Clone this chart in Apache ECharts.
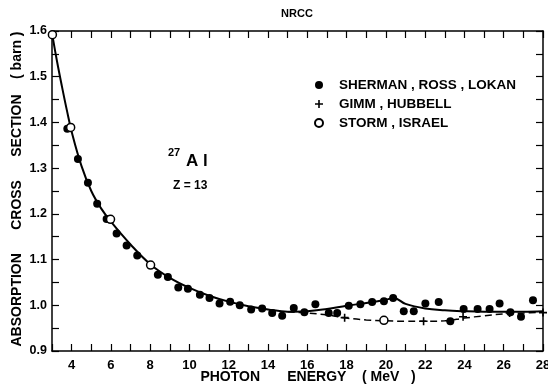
<!DOCTYPE html>
<html>
<head>
<meta charset="utf-8">
<script src="https://cdn.jsdelivr.net/npm/echarts@6/dist/echarts.min.js"></script>
<style>html,body{margin:0;padding:0;background:#fff}#c{width:548px;height:384px}</style>
</head>
<body>
<div id="c"></div>
<script>
// Sherman, Ross, Lokan (filled circles)
const shermanE = [3.78,4.32,4.83,5.30,5.78,6.29,6.80,7.34,8.39,8.90,9.43,9.92,10.53,11.02,11.53,12.07,12.56,13.14,13.70,14.21,14.72,15.31,15.85,16.41,17.09,17.52,18.11,18.70,19.30,19.90,20.37,20.91,21.42,22.01,22.69,23.28,23.96,24.67,25.28,25.79,26.34,26.88,27.49];
const shermanV = [1.386,1.320,1.268,1.222,1.189,1.157,1.131,1.109,1.067,1.062,1.039,1.036,1.023,1.016,1.004,1.008,1.000,0.991,0.993,0.983,0.977,0.994,0.985,1.002,0.983,0.983,0.999,1.002,1.007,1.009,1.016,0.987,0.987,1.004,1.007,0.965,0.992,0.992,0.992,1.004,0.985,0.975,1.011];
// Gimm, Hubbell (plus)
const gimmE = [17.9,21.92,23.93,26.3,28.0];
const gimmV = [0.973,0.965,0.975,0.983,0.984];
// Storm, Israel (open circles)
const stormE = [3.02,3.95,5.98,8.02,19.9];
const stormV = [1.592,1.389,1.188,1.088,0.967];
// Solid curve
const curveE = [3,3.25,3.5,3.75,4,4.5,5,5.5,6,7,8,9,10,11,12,13,14,15,16,17,18,19,20,20.4,21,22,23,24,25,26,27,28];
const curveV = [1.595,1.535,1.48,1.428,1.38,1.305,1.25,1.212,1.183,1.133,1.09,1.06,1.038,1.021,1.008,0.998,0.991,0.986,0.987,0.992,0.999,1.005,1.012,1.016,1.003,0.993,0.989,0.987,0.986,0.986,0.986,0.987];
// Dashed curve
const dashE = [15,16,17,18,19,20,21,22,23,24,25,26,27,28];
const dashV = [0.986,0.983,0.979,0.972,0.968,0.966,0.965,0.965,0.966,0.972,0.977,0.981,0.983,0.985];

const zip = (a,b) => a.map((x,i)=>[x,b[i]]);
const FONT = 'Liberation Sans';
const PLUS = 'path://M3.2,0H4.8V3.2H8V4.8H4.8V8H3.2V4.8H0V3.2H3.2Z';

const chart = echarts.init(document.getElementById('c'), null, {renderer:'canvas'});
const axisCommon = {
  axisLine:{show:true,onZero:false,lineStyle:{color:'#000',width:1.5}},
  axisTick:{show:true,inside:true,length:7,lineStyle:{color:'#000',width:1.2}},
  splitLine:{show:false}
};
chart.setOption({
  animation:false,
  backgroundColor:'#fff',
  title:{text:'NRCC',left:292,top:3,textAlign:'center',textStyle:{fontFamily:FONT,fontSize:11,fontWeight:'bold',color:'#000'}},
  grid:{left:52,top:31,right:5,bottom:33,containLabel:false,outerBoundsMode:'none'},
  legend:{
    orient:'vertical',left:309,top:73,itemWidth:8,itemHeight:8,itemGap:5,
    textStyle:{fontFamily:FONT,fontSize:13.5,fontWeight:'bold',color:'#000',lineHeight:14,padding:[0,0,0,11]},
    data:[
      {name:'SHERMAN , ROSS , LOKAN',icon:'circle'},
      {name:'GIMM , HUBBELL',icon:PLUS},
      {name:'STORM , ISRAEL',icon:'circle'}
    ]
  },
  xAxis:[
    Object.assign({type:'value',min:3,max:28,interval:1,position:'bottom',
      name:'PHOTON       ENERGY    ( MeV   )',nameLocation:'middle',nameGap:19,nameMoveOverlap:false,
      nameTextStyle:{fontFamily:FONT,fontSize:14,fontWeight:'bold',color:'#000',padding:[0,0,0,21]},
      axisLabel:{fontFamily:FONT,fontSize:13,fontWeight:'bold',color:'#000',margin:8,
        formatter:v=>(Math.round(v)%2===0?String(Math.round(v)):'')}},axisCommon),
    Object.assign({type:'value',min:3,max:28,interval:1,position:'top',axisLabel:{show:false}},axisCommon)
  ],
  yAxis:[
    Object.assign({type:'value',min:0.9,max:1.6,interval:0.05,position:'left',
      name:'ABSORPTION      CROSS      SECTION    ( barn )',nameLocation:'middle',nameGap:28,nameRotate:90,nameMoveOverlap:false,
      nameTextStyle:{fontFamily:FONT,fontSize:14,fontWeight:'bold',color:'#000',padding:[0,0,0,4]},
      axisLabel:{fontFamily:FONT,fontSize:12.5,fontWeight:'bold',color:'#000',margin:5,
        formatter:v=>{const r=Math.round(v*100);return r%10===0?(r/100).toFixed(1):'';}}},axisCommon),
    Object.assign({type:'value',min:0.9,max:1.6,interval:0.05,position:'right',axisLabel:{show:false}},axisCommon)
  ],
  graphic:[
    {type:'text',left:168,top:147,style:{text:'27',fontFamily:FONT,fontSize:11,fontWeight:'bold',fill:'#000'}},
    {type:'text',left:186,top:153,style:{text:'A l',fontFamily:FONT,fontSize:17,fontWeight:'bold',fill:'#000'}},
    {type:'text',left:173,top:180,style:{text:'Z = 13',fontFamily:FONT,fontSize:12,fontWeight:'bold',fill:'#000'}}
  ],
  series:[
    {type:'line',name:'fit',data:zip(curveE,curveV),smooth:0.4,showSymbol:false,
      lineStyle:{color:'#000',width:2},z:2,silent:true},
    {type:'line',name:'fit2',data:zip(dashE,dashV),smooth:0.4,showSymbol:false,
      lineStyle:{color:'#000',width:1.5,type:[7,4]},z:2,silent:true},
    {type:'scatter',name:'SHERMAN , ROSS , LOKAN',data:zip(shermanE,shermanV),symbol:'circle',symbolSize:8,
      itemStyle:{color:'#000',opacity:1},z:3},
    {type:'scatter',name:'GIMM , HUBBELL',data:zip(gimmE,gimmV),symbol:PLUS,symbolSize:8,
      itemStyle:{color:'#000',opacity:1},z:3},
    {type:'scatter',name:'STORM , ISRAEL',data:zip(stormE,stormV),symbol:'circle',symbolSize:8,
      itemStyle:{color:'#fff',borderColor:'#000',borderWidth:1.5,opacity:1},z:4}
  ]
});
</script>
</body>
</html>
